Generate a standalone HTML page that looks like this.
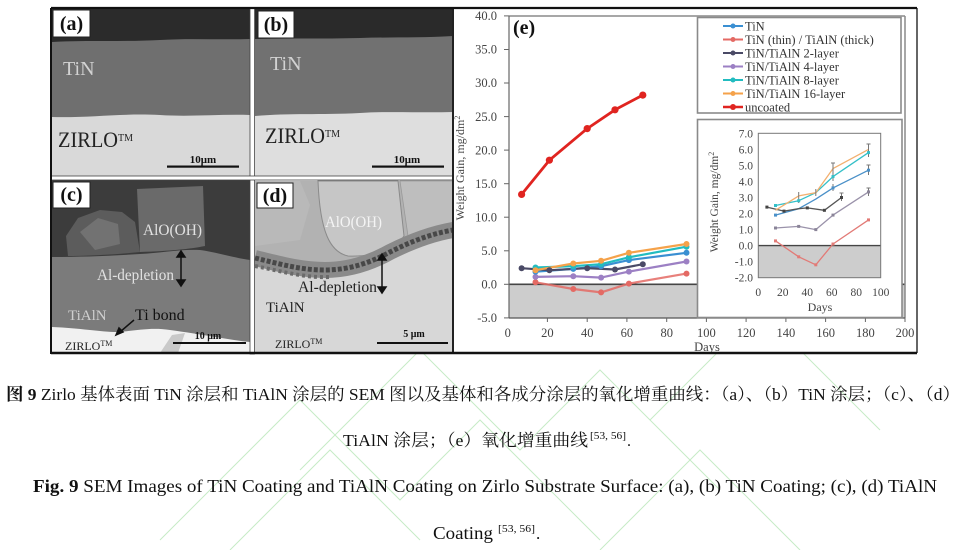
<!DOCTYPE html>
<html><head><meta charset="utf-8"><style>html,body{margin:0;padding:0;background:#fff}svg{display:block}</style></head>
<body>
<svg xmlns="http://www.w3.org/2000/svg" width="966" height="550" viewBox="0 0 966 550">
<rect width="966" height="550" fill="#fff"/>

<!-- watermark (faint green) -->
<g fill="none" stroke="#c6ebc6" stroke-width="1">
<polyline points="470,300 560,210 640,290 700,230"/>
<polyline points="480,330 575,235 650,310"/>
<polyline points="560,160 660,60 720,120"/>
<polyline points="600,200 720,80 790,150"/>
<polyline points="230,550 330,450 420,540"/>
<polyline points="160,540 300,400 400,500 480,420 600,540"/>
<polyline points="300,470 420,350 520,450 600,370 720,490"/>
<polyline points="600,550 700,450 800,550"/>
<polyline points="650,420 760,310 880,430"/>
<polyline points="560,120 620,60 680,120 620,180"/>
</g>

<!-- ===== Panel (a) ===== -->
<rect x="52" y="9" width="198" height="167" fill="#d9d9d9"/>
<path d="M52,9 H250 V115 C220,114 190,117 160,115 C120,113 90,118 52,117 Z" fill="#6f6f6f"/>
<path d="M52,9 H250 V39 C220,40 190,38 160,40 C120,42 90,40 52,42 Z" fill="#2b2b2b"/>
<rect x="53" y="10" width="37" height="27" fill="#fff" stroke="#222" stroke-width="1"/>
<text x="71.5" y="30" font-family="Liberation Serif, serif" font-size="20" font-weight="bold" text-anchor="middle" fill="#111">(a)</text>
<text x="63" y="75" font-family="Liberation Serif, serif" font-size="20" fill="#d2d2d2">TiN</text>
<text x="58" y="147" font-family="Liberation Serif, serif" font-size="22" fill="#222" textLength="60" lengthAdjust="spacingAndGlyphs">ZIRLO</text>
<text x="118" y="141" font-family="Liberation Serif, serif" font-size="10" fill="#222">TM</text>
<text x="203" y="163" font-family="Liberation Serif, serif" font-size="11" font-weight="bold" text-anchor="middle" fill="#111">10μm</text>
<rect x="167" y="165.5" width="72" height="2.2" fill="#111"/>

<!-- ===== Panel (b) ===== -->
<rect x="255" y="9" width="198" height="167" fill="#dedede"/>
<path d="M255,9 H453 V112 C420,113 390,111 360,113 C320,115 290,113 255,116 Z" fill="#717171"/>
<path d="M255,9 H453 V36 C420,38 390,37 360,38 C320,39 290,38 255,39 Z" fill="#2a2a2a"/>
<rect x="258" y="11" width="36" height="27" fill="#fff" stroke="#222" stroke-width="1"/>
<text x="276" y="31" font-family="Liberation Serif, serif" font-size="20" font-weight="bold" text-anchor="middle" fill="#111">(b)</text>
<text x="270" y="70" font-family="Liberation Serif, serif" font-size="20" fill="#d2d2d2">TiN</text>
<text x="265" y="143" font-family="Liberation Serif, serif" font-size="22" fill="#222" textLength="60" lengthAdjust="spacingAndGlyphs">ZIRLO</text>
<text x="325" y="137" font-family="Liberation Serif, serif" font-size="10" fill="#222">TM</text>
<text x="407" y="163" font-family="Liberation Serif, serif" font-size="11" font-weight="bold" text-anchor="middle" fill="#111">10μm</text>
<rect x="372" y="165.5" width="72" height="2.2" fill="#111"/>

<!-- ===== Panel (c) ===== -->
<rect x="52" y="180" width="198" height="173" fill="#7b7b7b"/>
<path d="M52,180 H250 V260 C235,258 215,252 200,250 C180,249 160,253 140,254 C110,256 80,257 52,257 Z" fill="#3c3c3c"/>
<path d="M137,189 L203,186 L205,246 C190,249 170,251 140,252 Z" fill="#6a6a6a"/>
<path d="M66,236 L78,218 L100,210 L122,212 L135,222 L140,252 C110,255 85,256 68,256 Z" fill="#5c5c5c"/>
<path d="M80,232 L98,218 L118,224 L120,244 L95,250 Z" fill="#727272"/>
<path d="M52,327 C80,328 100,332 117,332 C135,331 150,327 170,330 C200,334 230,340 250,342 V353 H52 Z" fill="#f1f1f1"/>
<path d="M160,353 L172,335 L185,333 L178,353 Z" fill="#c9c9c9"/>
<rect x="53" y="182" width="37" height="26" fill="#fff" stroke="#222" stroke-width="1"/>
<text x="71.5" y="201" font-family="Liberation Serif, serif" font-size="20" font-weight="bold" text-anchor="middle" fill="#111">(c)</text>
<text x="143" y="235" font-family="Liberation Serif, serif" font-size="16" fill="#e2e2e2" textLength="59" lengthAdjust="spacingAndGlyphs">AlO(OH)</text>
<text x="97" y="280" font-family="Liberation Serif, serif" font-size="16" fill="#e2e2e2" textLength="77" lengthAdjust="spacingAndGlyphs">Al-depletion</text>
<g stroke="#111" stroke-width="1.5" fill="#111">
<line x1="181" y1="255" x2="181" y2="282"/>
<path d="M177,257 L181,251 L185,257 Z"/><path d="M177,280 L181,286 L185,280 Z"/>
<line x1="134" y1="320" x2="120" y2="332"/>
<path d="M116,335 L119,328 L123,332 Z"/>
</g>
<text x="68" y="320" font-family="Liberation Serif, serif" font-size="15" fill="#cfcfcf">TiAlN</text>
<text x="135" y="320" font-family="Liberation Serif, serif" font-size="16" fill="#111">Ti bond</text>
<text x="65" y="350" font-family="Liberation Serif, serif" font-size="12" fill="#222">ZIRLO<tspan font-size="8" dy="-4">TM</tspan></text>
<text x="208" y="339" font-family="Liberation Serif, serif" font-size="10" font-weight="bold" text-anchor="middle" fill="#111">10 μm</text>
<rect x="173" y="342" width="73" height="2" fill="#111"/>

<!-- ===== Panel (d) ===== -->
<rect x="255" y="181" width="198" height="172" fill="#d7d7d7"/>
<path d="M255,181 H453 V230 C430,233 410,242 390,252 C370,262 345,268 320,267 C295,266 275,262 255,260 Z" fill="#b2b2b2"/>
<path d="M318,181 H398 L404,236 C394,250 372,257 348,256 C330,252 320,232 318,181 Z" fill="#c6c6c6" stroke="#8a8a8a" stroke-width="1"/>
<path d="M400,181 H453 V222 L430,232 L408,236 Z" fill="#bebebe" stroke="#999" stroke-width="0.8"/>
<path d="M255,181 H300 L310,205 L300,240 L255,246 Z" fill="#b9b9b9"/>
<path d="M255,258 C280,264 300,270 325,270 C350,270 372,262 390,252 C410,242 430,234 453,230" fill="none" stroke="#8a8a8a" stroke-width="16"/>
<path d="M255,258 C280,264 300,270 325,270 C350,270 372,262 390,252 C410,242 430,234 453,230" fill="none" stroke="#484848" stroke-width="5" stroke-dasharray="4 2"/>
<path d="M255,266 C285,272 305,278 330,277" fill="none" stroke="#6a6a6a" stroke-width="4" stroke-dasharray="3 3"/>
<rect x="257" y="183" width="36" height="25" fill="#fff" stroke="#222" stroke-width="1"/>
<text x="275" y="202" font-family="Liberation Serif, serif" font-size="20" font-weight="bold" text-anchor="middle" fill="#111">(d)</text>
<text x="325" y="227" font-family="Liberation Serif, serif" font-size="16" fill="#f4f4f4" textLength="57" lengthAdjust="spacingAndGlyphs">AlO(OH)</text>
<text x="298" y="292" font-family="Liberation Serif, serif" font-size="16" fill="#222" textLength="79" lengthAdjust="spacingAndGlyphs">Al-depletion</text>
<g stroke="#111" stroke-width="1.5" fill="#111">
<line x1="382" y1="258" x2="382" y2="289"/>
<path d="M378,260 L382,254 L386,260 Z"/><path d="M378,287 L382,293 L386,287 Z"/>
</g>
<text x="266" y="312" font-family="Liberation Serif, serif" font-size="15" fill="#222">TiAlN</text>
<text x="275" y="348" font-family="Liberation Serif, serif" font-size="12" fill="#222">ZIRLO<tspan font-size="8" dy="-4">TM</tspan></text>
<text x="414" y="337" font-family="Liberation Serif, serif" font-size="10" font-weight="bold" text-anchor="middle" fill="#111">5 μm</text>
<rect x="377" y="342" width="71" height="2" fill="#111"/>

<!-- panel separators -->
<g fill="#fff" stroke="#444" stroke-width="0.8">
<rect x="250" y="8" width="4.5" height="346"/>
<rect x="51" y="176" width="402" height="4"/>
</g>

<!-- ===== Chart (e) ===== -->
<rect x="454" y="9" width="462" height="343" fill="#fff"/>
<rect x="509" y="284.3" width="396" height="33.6" fill="#cdcdcd"/>
<line x1="509" y1="284.3" x2="905" y2="284.3" stroke="#454545" stroke-width="1.6"/>
<g stroke="#8a8a8a" stroke-width="1.5" fill="none">
<line x1="509" y1="16" x2="905" y2="16"/>
<line x1="905" y1="16" x2="905" y2="318"/>
</g>
<line x1="509" y1="16" x2="509" y2="318" stroke="#666" stroke-width="1.2"/>
<line x1="509" y1="318" x2="905" y2="318" stroke="#555" stroke-width="1.2"/>
<g stroke="#666" stroke-width="1">
<line x1="504" y1="15.9" x2="509" y2="15.9"/><line x1="504" y1="49.5" x2="509" y2="49.5"/>
<line x1="504" y1="83" x2="509" y2="83"/><line x1="504" y1="116.6" x2="509" y2="116.6"/>
<line x1="504" y1="150.1" x2="509" y2="150.1"/><line x1="504" y1="183.7" x2="509" y2="183.7"/>
<line x1="504" y1="217.2" x2="509" y2="217.2"/><line x1="504" y1="250.8" x2="509" y2="250.8"/>
<line x1="504" y1="284.3" x2="509" y2="284.3"/><line x1="504" y1="317.9" x2="509" y2="317.9"/>
<line x1="547.4" y1="318" x2="547.4" y2="322"/><line x1="587.2" y1="318" x2="587.2" y2="322"/>
<line x1="626.9" y1="318" x2="626.9" y2="322"/><line x1="666.7" y1="318" x2="666.7" y2="322"/>
<line x1="706.4" y1="318" x2="706.4" y2="322"/><line x1="746.1" y1="318" x2="746.1" y2="322"/>
<line x1="785.9" y1="318" x2="785.9" y2="322"/><line x1="825.6" y1="318" x2="825.6" y2="322"/>
<line x1="865.4" y1="318" x2="865.4" y2="322"/><line x1="905" y1="318" x2="905" y2="322"/>
</g>
<g font-family="Liberation Serif, serif" font-size="12.5" fill="#444" text-anchor="end">
<text x="497" y="20">40.0</text><text x="497" y="53.7">35.0</text><text x="497" y="87.2">30.0</text>
<text x="497" y="120.8">25.0</text><text x="497" y="154.3">20.0</text><text x="497" y="187.9">15.0</text>
<text x="497" y="221.4">10.0</text><text x="497" y="255">5.0</text><text x="497" y="288.5">0.0</text>
<text x="497" y="322.1">-5.0</text>
</g>
<g font-family="Liberation Serif, serif" font-size="12.5" fill="#444" text-anchor="middle">
<text x="507.7" y="337">0</text><text x="547.4" y="337">20</text><text x="587.2" y="337">40</text>
<text x="626.9" y="337">60</text><text x="666.7" y="337">80</text><text x="706.4" y="337">100</text>
<text x="746.1" y="337">120</text><text x="785.9" y="337">140</text><text x="825.6" y="337">160</text>
<text x="865.4" y="337">180</text><text x="905" y="337">200</text>
<text x="707" y="351">Days</text>
</g>
<text transform="translate(464,168) rotate(-90)" font-family="Liberation Serif, serif" font-size="12" fill="#444" text-anchor="middle">Weight Gain, mg/dm<tspan font-size="8" dy="-4">2</tspan></text>
<text x="513" y="34" font-family="Liberation Serif, serif" font-size="20" font-weight="bold" fill="#111">(e)</text>

<!-- main series -->
<g fill="none" stroke-width="2.2" stroke-linejoin="round">
<polyline stroke="#e46a64" stroke-opacity="0.85" points="535.5,282.3 573.3,289 601.1,292.4 628.9,283.6 686.5,273.6"/>
<polyline stroke="#9c80c4" points="535.5,276.9 573.3,276.2 601.1,277.6 628.9,271.6 686.5,261.5"/>
<polyline stroke="#3a8fd2" points="535.5,271.6 573.3,268.9 601.1,266.2 628.9,260.1 686.5,252.8"/>
<polyline stroke="#4a4a66" points="521.6,268.2 549.4,270.2 587.2,268.2 615,269.5 642.8,264.2"/>
<polyline stroke="#22bcc0" points="535.5,267.5 573.3,266.2 601.1,264.2 628.9,257.3 686.5,246.7"/>
<polyline stroke="#f5a24a" points="535.5,270.2 573.3,263.5 601.1,260.8 628.9,252.8 686.5,244"/>
<polyline stroke="#e02420" stroke-width="2.8" points="521.6,194.4 549.4,160.2 587.2,128.6 615,109.8 642.8,95.1"/>
</g>
<g>
<g fill="#e46a64"><circle cx="535.5" cy="282.3" r="3"/><circle cx="573.3" cy="289" r="3"/><circle cx="601.1" cy="292.4" r="3"/><circle cx="628.9" cy="283.6" r="3"/><circle cx="686.5" cy="273.6" r="3"/></g>
<g fill="#9c80c4"><circle cx="535.5" cy="276.9" r="3"/><circle cx="573.3" cy="276.2" r="3"/><circle cx="601.1" cy="277.6" r="3"/><circle cx="628.9" cy="271.6" r="3"/><circle cx="686.5" cy="261.5" r="3"/></g>
<g fill="#3a8fd2"><circle cx="535.5" cy="271.6" r="3"/><circle cx="573.3" cy="268.9" r="3"/><circle cx="601.1" cy="266.2" r="3"/><circle cx="628.9" cy="260.1" r="3"/><circle cx="686.5" cy="252.8" r="3"/></g>
<g fill="#4a4a66"><circle cx="521.6" cy="268.2" r="3"/><circle cx="549.4" cy="270.2" r="3"/><circle cx="587.2" cy="268.2" r="3"/><circle cx="615" cy="269.5" r="3"/><circle cx="642.8" cy="264.2" r="3"/></g>
<g fill="#22bcc0"><circle cx="535.5" cy="267.5" r="3"/><circle cx="573.3" cy="266.2" r="3"/><circle cx="601.1" cy="264.2" r="3"/><circle cx="628.9" cy="257.3" r="3"/><circle cx="686.5" cy="246.7" r="3"/></g>
<g fill="#f5a24a"><circle cx="535.5" cy="270.2" r="3"/><circle cx="573.3" cy="263.5" r="3"/><circle cx="601.1" cy="260.8" r="3"/><circle cx="628.9" cy="252.8" r="3"/><circle cx="686.5" cy="244" r="3"/></g>
<g fill="#e02420"><circle cx="521.6" cy="194.4" r="3.6"/><circle cx="549.4" cy="160.2" r="3.6"/><circle cx="587.2" cy="128.6" r="3.6"/><circle cx="615" cy="109.8" r="3.6"/><circle cx="642.8" cy="95.1" r="3.6"/></g>
</g>

<!-- legend -->
<rect x="697.5" y="17.5" width="203.5" height="95.5" fill="#fff" stroke="#8a8a8a" stroke-width="1.6"/>
<g stroke-width="2">
<line x1="723" y1="26" x2="743" y2="26" stroke="#3a8fd2"/><circle cx="733" cy="26" r="2.5" fill="#3a8fd2"/>
<line x1="723" y1="39.5" x2="743" y2="39.5" stroke="#e46a64"/><circle cx="733" cy="39.5" r="2.5" fill="#e46a64"/>
<line x1="723" y1="53" x2="743" y2="53" stroke="#4a4a66"/><circle cx="733" cy="53" r="2.5" fill="#4a4a66"/>
<line x1="723" y1="66.5" x2="743" y2="66.5" stroke="#9c80c4"/><circle cx="733" cy="66.5" r="2.5" fill="#9c80c4"/>
<line x1="723" y1="80" x2="743" y2="80" stroke="#22bcc0"/><circle cx="733" cy="80" r="2.5" fill="#22bcc0"/>
<line x1="723" y1="93.5" x2="743" y2="93.5" stroke="#f5a24a"/><circle cx="733" cy="93.5" r="2.5" fill="#f5a24a"/>
<line x1="723" y1="107" x2="743" y2="107" stroke="#e02420" stroke-width="2.5"/><circle cx="733" cy="107" r="3" fill="#e02420"/>
</g>
<g font-family="Liberation Serif, serif" font-size="12.5" fill="#333">
<text x="745" y="30.3">TiN</text>
<text x="745" y="43.8">TiN (thin) / TiAlN (thick)</text>
<text x="745" y="57.3">TiN/TiAlN 2-layer</text>
<text x="745" y="70.8">TiN/TiAlN 4-layer</text>
<text x="745" y="84.3">TiN/TiAlN 8-layer</text>
<text x="745" y="97.8">TiN/TiAlN 16-layer</text>
<text x="745" y="111.3">uncoated</text>
</g>

<!-- inset -->
<rect x="697.5" y="119.5" width="204.5" height="198" fill="#fff" stroke="#8a8a8a" stroke-width="1.6"/>
<rect x="758.3" y="245.6" width="122.4" height="32.1" fill="#cdcdcd"/>
<line x1="758.3" y1="245.6" x2="880.7" y2="245.6" stroke="#454545" stroke-width="1.4"/>
<rect x="758.3" y="133.3" width="122.4" height="144.4" fill="none" stroke="#777" stroke-width="1"/>
<g font-family="Liberation Serif, serif" font-size="11.5" fill="#444" text-anchor="end">
<text x="753" y="137.3">7.0</text><text x="753" y="153.4">6.0</text><text x="753" y="169.4">5.0</text>
<text x="753" y="185.4">4.0</text><text x="753" y="201.5">3.0</text><text x="753" y="217.5">2.0</text>
<text x="753" y="233.6">1.0</text><text x="753" y="249.6">0.0</text><text x="753" y="265.6">-1.0</text>
<text x="753" y="281.7">-2.0</text>
</g>
<g font-family="Liberation Serif, serif" font-size="11.5" fill="#444" text-anchor="middle">
<text x="758.3" y="296">0</text><text x="782.8" y="296">20</text><text x="807.3" y="296">40</text>
<text x="831.7" y="296">60</text><text x="856.2" y="296">80</text><text x="880.7" y="296">100</text>
<text x="820" y="311" font-size="12">Days</text>
</g>
<text transform="translate(718,202) rotate(-90)" font-family="Liberation Serif, serif" font-size="11.5" fill="#444" text-anchor="middle">Weight Gain, mg/dm<tspan font-size="8" dy="-4">2</tspan></text>
<g fill="none" stroke-width="1.3" stroke-linejoin="round">
<polyline stroke="#e27a76" points="775.4,240.8 798.7,256.8 815.8,264.8 833,244 868.5,219.9"/>
<polyline stroke="#9a92aa" points="775.4,228 798.7,226.4 815.8,229.6 833,215.1 868.5,191.9"/>
<polyline stroke="#4a90c8" points="775.4,215.1 798.7,208.7 815.8,199.1 833,187.9 868.5,170.2"/>
<polyline stroke="#555" points="766.9,207.1 784,211.1 798.7,208.7 807.3,207.9 824.4,210.3 841.5,197.5"/>
<polyline stroke="#35c0c8" points="775.4,205.5 798.7,200.7 815.8,192.7 833,176.6 868.5,152.6"/>
<polyline stroke="#f2b070" points="775.4,210.3 798.7,195.9 815.8,192.7 833,168.6 868.5,149.4"/>
</g>
<g stroke="#777" stroke-width="1">
<line x1="868.5" y1="144" x2="868.5" y2="157"/><line x1="866.5" y1="144" x2="870.5" y2="144"/>
<line x1="868.5" y1="165" x2="868.5" y2="175"/><line x1="866.5" y1="165" x2="870.5" y2="165"/>
<line x1="868.5" y1="188" x2="868.5" y2="196"/><line x1="866.5" y1="188" x2="870.5" y2="188"/>
<line x1="833" y1="163" x2="833" y2="181"/><line x1="831" y1="163" x2="835" y2="163"/>
<line x1="833" y1="184" x2="833" y2="191"/>
<line x1="841.5" y1="193" x2="841.5" y2="201"/><line x1="839.5" y1="193" x2="843.5" y2="193"/>
<line x1="798.7" y1="192" x2="798.7" y2="203"/><line x1="815.8" y1="189" x2="815.8" y2="196"/>
</g>
<g>
<g fill="#e27a76"><rect x="774" y="239.4" width="3" height="3"/><rect x="797.2" y="255.3" width="3" height="3"/><rect x="814.3" y="263.3" width="3" height="3"/><rect x="831.5" y="242.5" width="3" height="3"/><rect x="867" y="218.4" width="3" height="3"/></g>
<g fill="#8a8498"><rect x="774" y="226.5" width="3" height="3"/><rect x="797.2" y="224.9" width="3" height="3"/><rect x="814.3" y="228.1" width="3" height="3"/><rect x="831.5" y="213.6" width="3" height="3"/><rect x="867" y="190.4" width="3" height="3"/></g>
<g fill="#444"><rect x="765.4" y="205.6" width="3" height="3"/><rect x="782.5" y="209.6" width="3" height="3"/><rect x="805.8" y="206.4" width="3" height="3"/><rect x="822.9" y="208.8" width="3" height="3"/><rect x="840" y="196" width="3" height="3"/></g>
<g fill="#4a90c8"><rect x="774" y="213.6" width="3" height="3"/><rect x="831.5" y="186.4" width="3" height="3"/><rect x="867" y="168.7" width="3" height="3"/></g>
<g fill="#35c0c8"><rect x="774" y="204" width="3" height="3"/><rect x="797.2" y="199.2" width="3" height="3"/><rect x="831.5" y="175.1" width="3" height="3"/><rect x="867" y="151.1" width="3" height="3"/></g>
</g>

<!-- chart and figure borders -->
<line x1="453" y1="8" x2="453" y2="353" stroke="#222" stroke-width="2"/>
<line x1="917" y1="8" x2="917" y2="353" stroke="#333" stroke-width="1.5"/>
<line x1="51" y1="8" x2="917" y2="8" stroke="#111" stroke-width="2.2"/>
<line x1="51" y1="353" x2="917" y2="353" stroke="#111" stroke-width="2.6"/>
<line x1="51" y1="8" x2="51" y2="354" stroke="#111" stroke-width="2"/>

<!-- captions -->
<text x="6" y="400" font-family="Liberation Serif, 'Noto Serif CJK SC', serif" font-size="17" fill="#111" textLength="954" lengthAdjust="spacingAndGlyphs"><tspan font-weight="bold">图 9</tspan> Zirlo 基体表面 TiN 涂层和 TiAlN 涂层的 SEM 图以及基体和各成分涂层的氧化增重曲线：（a）、（b）TiN 涂层；（c）、（d）</text>
<text x="343" y="446" font-family="Liberation Serif, 'Noto Serif CJK SC', serif" font-size="17" fill="#111" textLength="245" lengthAdjust="spacingAndGlyphs">TiAlN 涂层；（e）氧化增重曲线</text>
<text x="590" y="439" font-family="Liberation Serif, serif" font-size="10" fill="#111" textLength="36" lengthAdjust="spacingAndGlyphs">[53, 56]</text>
<text x="627" y="446" font-family="Liberation Serif, serif" font-size="16" fill="#111">.</text>
<text x="33" y="492" font-family="Liberation Serif, serif" font-size="18" fill="#111" textLength="904" lengthAdjust="spacingAndGlyphs"><tspan font-weight="bold">Fig. 9</tspan> SEM Images of TiN Coating and TiAlN Coating on Zirlo Substrate Surface: (a), (b) TiN Coating; (c), (d) TiAlN</text>
<text x="433" y="539" font-family="Liberation Serif, serif" font-size="18" fill="#111" textLength="60" lengthAdjust="spacingAndGlyphs">Coating</text>
<text x="498" y="532" font-family="Liberation Serif, serif" font-size="10.5" fill="#111" textLength="37" lengthAdjust="spacingAndGlyphs">[53, 56]</text>
<text x="536" y="539" font-family="Liberation Serif, serif" font-size="17" fill="#111">.</text>
</svg>
</body></html>
